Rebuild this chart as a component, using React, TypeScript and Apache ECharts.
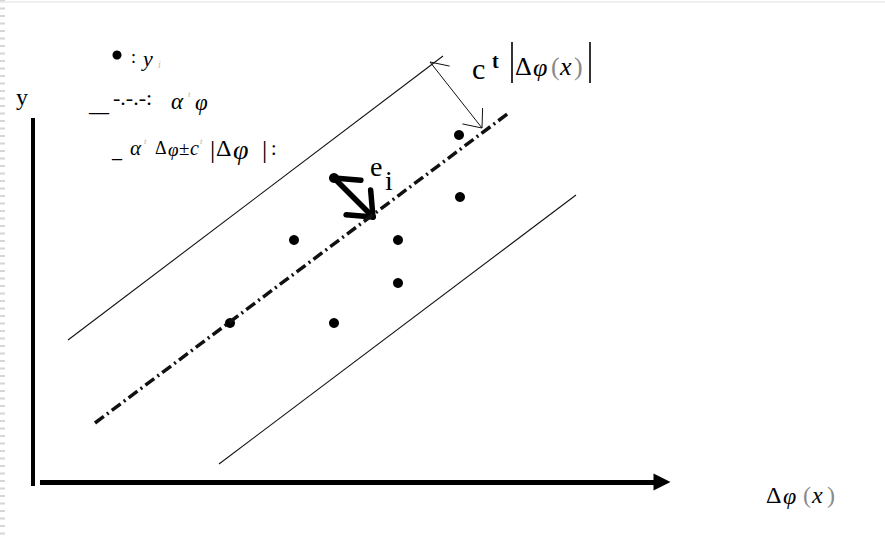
import React, { useEffect, useRef } from "react";
import * as echarts from "echarts";

// Observations y_i (diagram units, origin at the axes corner)
const pointX = [301, 261, 365, 427, 365, 197, 301, 426];
const pointY = [304, 242, 242, 285, 199, 159, 159, 347];

// Fitted line α^t φ and the band α^t Δφ ± c^t |Δφ|
const fitLine = [[62, 59], [477, 370]];
const upperBand = [[35, 142], [410, 426]];
const lowerBand = [[186, 18], [543, 287]];

// Residual e_i and band half-width arrows
const residualArrow = [[301, 304], [340, 265]];
const widthArrow = [[397, 420], [449, 354]];

// Axes
const xAxisSpan = [[7, 0], [629, 0]];
const yAxisSpan = [[0, -4], [0, 364]];

const serif = '"Liberation Serif", "DejaVu Serif", serif';

type Pt = number[];

// Open arrowheads: short strokes opening back along the shaft.
// The start end carries a single wing, the far end carries two.
function openHeads(seg: Pt[], len: number, deg: number) {
  const out: { coords: Pt[] }[] = [];
  const rad = (deg * Math.PI) / 180;
  const ends: [Pt, Pt, number[]][] = [
    [seg[0], seg[1], [rad]],
    [seg[1], seg[0], [rad, -rad]],
  ];
  for (const [tip, other, wings] of ends) {
    const dx = other[0] - tip[0];
    const dy = other[1] - tip[1];
    const d = Math.hypot(dx, dy);
    const ux = dx / d;
    const uy = dy / d;
    for (const s of wings) {
      const rx = ux * Math.cos(s) - uy * Math.sin(s);
      const ry = ux * Math.sin(s) + uy * Math.cos(s);
      out.push({ coords: [tip, [tip[0] + rx * len, tip[1] + ry * len]] });
    }
  }
  return out;
}

function txt(x: number, y: number, text: string, size: number, extra: any = {}) {
  return {
    type: "text",
    x,
    y,
    silent: true,
    style: {
      text,
      fontFamily: serif,
      fontSize: size,
      fill: "#000",
      align: "left",
      verticalAlign: "middle",
      ...extra,
    },
  };
}

const it = { fontStyle: "italic" };
const sup = { fill: "#b8b8b8", fontStyle: "italic" };
const paren = { fill: "#8a8a8a" };

export default function App() {
  const ref = useRef<HTMLDivElement>(null);

  useEffect(() => {
    document.body.style.margin = "0";
    if (!ref.current) return;
    const chart = echarts.init(ref.current, undefined, { renderer: "svg" });

    const solid = (data: Pt[], width: number, type: any = "solid") => ({
      type: "line",
      data,
      showSymbol: false,
      silent: true,
      lineStyle: { color: "#111", width, type },
    });

    chart.setOption({
      animation: false,
      backgroundColor: "#fff",
      grid: { left: 0, right: 0, top: 0, bottom: 0 },
      xAxis: { type: "value", min: -33, max: 852, show: false },
      yAxis: { type: "value", min: -55, max: 482, show: false },
      series: [
        solid(upperBand, 1.1),
        solid(lowerBand, 1.1),
        solid(fitLine, 3.5, [11, 4, 2, 4]),
        {
          type: "lines",
          coordinateSystem: "cartesian2d",
          silent: true,
          symbol: ["none", "triangle"],
          symbolSize: 17,
          lineStyle: { color: "#000", width: 5, opacity: 1, curveness: 0 },
          data: [{ coords: xAxisSpan }],
        },
        {
          type: "lines",
          coordinateSystem: "cartesian2d",
          silent: true,
          symbol: "none",
          lineStyle: { color: "#000", width: 4, opacity: 1 },
          data: [{ coords: yAxisSpan }],
        },
        {
          type: "lines",
          coordinateSystem: "cartesian2d",
          silent: true,
          symbol: "none",
          lineStyle: { color: "#000", width: 5.5, opacity: 1, cap: "round" },
          data: [{ coords: residualArrow }, ...openHeads(residualArrow, 27, 40)],
        },
        {
          type: "lines",
          coordinateSystem: "cartesian2d",
          silent: true,
          symbol: "none",
          lineStyle: { color: "#111", width: 1, opacity: 1 },
          data: [{ coords: widthArrow }, ...openHeads(widthArrow, 20, 40)],
        },
        {
          type: "scatter",
          silent: true,
          symbol: "circle",
          symbolSize: 10,
          itemStyle: { color: "#000", opacity: 1 },
          data: pointX.map((x, i) => [x, pointY[i]]),
        },
      ],
      graphic: [
        // page edge decoration
        {
          type: "line",
          silent: true,
          shape: { x1: 2.5, y1: 0, x2: 2.5, y2: 537 },
          style: { stroke: "#d6d6d6", lineWidth: 5, lineDash: [2, 5.5] },
        },
        {
          type: "line",
          silent: true,
          shape: { x1: 0, y1: 2, x2: 885, y2: 2 },
          style: { stroke: "#ebebeb", lineWidth: 1.5 },
        },
        // y axis title
        txt(16, 97, "y", 24),
        // legend: observations
        { type: "circle", silent: true, shape: { cx: 117, cy: 55, r: 4.5 }, style: { fill: "#000" } },
        txt(131, 57, ":", 18),
        txt(143, 58, "y", 22, it),
        txt(158, 64, "i", 10, sup),
        // legend: fitted line
        txt(89, 104, "__", 20),
        txt(113, 97, "-.-.-:", 22),
        txt(171, 101, "α", 23, it),
        txt(188, 94, "t", 9, sup),
        txt(195, 102, "φ", 23, it),
        // legend: band
        txt(112, 150, "_", 20),
        txt(130, 148, "α", 21, it),
        txt(144, 141, "t", 9, sup),
        txt(155, 148, "Δ", 18),
        txt(168, 149, "φ", 19, it),
        txt(179, 148, "±", 19),
        txt(190, 148, "c", 20, it),
        txt(200, 141, "t", 9, sup),
        txt(210, 149, "|", 26),
        txt(216, 148, "Δ", 24),
        txt(233, 149, "φ", 28, it),
        txt(262, 149, "|", 26),
        txt(271, 148, ":", 20),
        // residual label
        txt(370, 166, "e", 28),
        txt(385, 180, "i", 28),
        // band half-width label
        txt(472, 68, "c", 30),
        txt(492, 61, "t", 20, { fontWeight: "bold" }),
        {
          type: "line",
          silent: true,
          shape: { x1: 512, y1: 42, x2: 512, y2: 83 },
          style: { stroke: "#000", lineWidth: 1.6 },
        },
        txt(515, 66, "Δ", 26),
        txt(533, 67, "φ", 26, it),
        txt(551, 66, "(", 26, paren),
        txt(560, 66, "x", 26, it),
        txt(574, 66, ")", 26, paren),
        {
          type: "line",
          silent: true,
          shape: { x1: 590, y1: 42, x2: 590, y2: 83 },
          style: { stroke: "#000", lineWidth: 1.6 },
        },
        // x axis title
        txt(766, 495, "Δ", 24),
        txt(783, 496, "φ", 24, it),
        txt(803, 495, "(", 24, paren),
        txt(812, 495, "x", 24, it),
        txt(827, 495, ")", 24, paren),
      ],
    });

    return () => chart.dispose();
  }, []);

  return <div ref={ref} style={{ width: 885, height: 537 }} />;
}
